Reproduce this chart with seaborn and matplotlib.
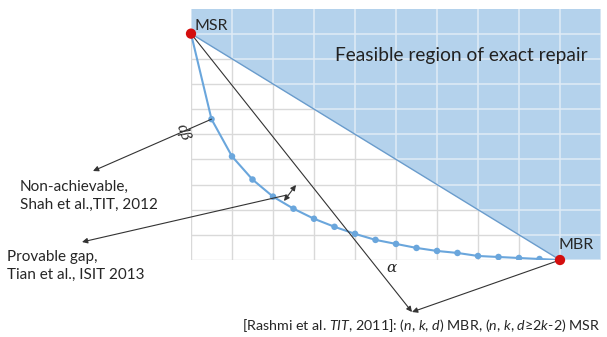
import matplotlib
matplotlib.use("Agg")
import matplotlib.pyplot as plt
import seaborn as sns

# storage/repair tradeoff (grid units, 10 x 10)
alpha = [0, 0.5, 1, 1.5, 2, 2.5, 3, 3.5, 4, 4.5, 5, 5.5, 6, 6.5, 7, 7.5, 8, 8.5, 9]
dbeta = [9, 5.6, 4.12, 3.2, 2.52, 2.04, 1.64, 1.32, 1.04, 0.8, 0.64, 0.48,
         0.36, 0.28, 0.16, 0.12, 0.08, 0.04, 0]
msr = (0, 9)
mbr = (9, 0)
x_max, y_max = 10, 10

W, H = 607, 337
AX_L, AX_R, AX_T, AX_B = 191, 601, 8.5, 260

sns.set_style("white")
plt.rcParams["font.family"] = ["Lato", "DejaVu Sans"]
plt.rcParams["mathtext.fontset"] = "custom"
plt.rcParams["mathtext.rm"] = "Lato"
plt.rcParams["mathtext.it"] = "Lato:italic"

fig = plt.figure(figsize=(W / 100, H / 100), dpi=100)
ax = fig.add_axes([AX_L / W, 1 - AX_B / H, (AX_R - AX_L) / W, (AX_B - AX_T) / H])


def px(x, y):
    # pixel position of the picture -> data units of the axes
    return ((x - AX_L) / (AX_R - AX_L) * x_max, (AX_B - y) / (AX_B - AX_T) * y_max)


# light grid, then the feasible region above the MSR-MBR line
region = [msr, (0, y_max), (x_max, y_max), (x_max, 0), mbr]
ax.vlines(range(0, x_max + 1), 0, y_max, color="#d9d9d9", lw=1.0, zorder=0.5)
ax.hlines(range(0, y_max + 1), 0, x_max, color="#d9d9d9", lw=1.0, zorder=0.5)
ax.add_patch(plt.Polygon(region, closed=True, facecolor="#b4d2ec",
                         edgecolor="none", zorder=1))
# lighter grid lines inside the shaded part
for v in range(0, x_max + 1):
    ax.plot([v, v], [max(0, mbr[0] - v), y_max], color="#e0ebf6", lw=1.1, zorder=2)
for v in range(0, y_max + 1):
    ax.plot([max(0, msr[1] - v), x_max], [v, v], color="#e0ebf6", lw=1.1, zorder=2)

ax.plot([msr[0], mbr[0]], [msr[1], mbr[1]], color="#6a9ccc", lw=1.0, zorder=2.5)

sns.lineplot(x=alpha, y=dbeta, ax=ax, color="#6aa6dc", lw=1.5, zorder=3)
sns.scatterplot(x=alpha[1:-1], y=dbeta[1:-1], ax=ax, color="#6aa6dc", s=22,
                edgecolor="none", zorder=4)
sns.scatterplot(x=[msr[0], mbr[0]], y=[msr[1], mbr[1]], ax=ax, color="#d40e0e",
                s=55, edgecolor="none", zorder=6, clip_on=False)

ax.set_xlim(0, x_max)
ax.set_ylim(0, y_max)
ax.set_xticks([])
ax.set_yticks([])
for s in ax.spines.values():
    s.set_visible(False)

arrow = dict(arrowstyle="-|>", color="#333333", lw=0.8, mutation_scale=8,
             shrinkA=0, shrinkB=0)
tip = px(412, 312)
ax.annotate("", xy=tip, xytext=msr, arrowprops=arrow, annotation_clip=False, zorder=5)
ax.annotate("", xy=tip, xytext=mbr, arrowprops=arrow, annotation_clip=False, zorder=5)
ax.annotate("", xy=px(93, 171), xytext=(alpha[1], dbeta[1]), arrowprops=arrow,
            annotation_clip=False, zorder=5)
ax.annotate("", xy=px(82, 242), xytext=px(287, 195), arrowprops=arrow,
            annotation_clip=False, zorder=5)
ax.annotate("", xy=px(296, 185), xytext=px(284, 201),
            arrowprops=dict(arrow, arrowstyle="<|-|>"), annotation_clip=False, zorder=5)

ax.text(*px(195, 26), "MSR", fontsize=11.5, va="center", ha="left", zorder=7)
ax.text(*px(558, 245), "MBR", fontsize=11.5, va="center", ha="left", zorder=7)
ax.text(*px(335, 55), "Feasible region of exact repair", fontsize=13.8,
        va="center", ha="left", color="#222222", zorder=7)
ax.text(*px(391, 268), "α", family="DejaVu Serif", style="italic", fontsize=11,
        va="center", ha="center", clip_on=False)
ax.text(*px(183, 133), "dβ", family="DejaVu Serif", style="italic", fontsize=10,
        va="center", ha="center", rotation=-70, clip_on=False)

fig.text(20 / W, 1 - 196 / H, "Non-achievable,\nShah et al.,TIT, 2012",
         fontsize=11, va="center", ha="left", linespacing=1.4)
fig.text(7 / W, 1 - 266 / H, "Provable gap,\nTian et al., ISIT 2013",
         fontsize=11, va="center", ha="left", linespacing=1.4)
fig.text(242 / W, 1 - 325 / H,
         r"[Rashmi et al. $\mathit{TIT}$, 2011]: ($\mathit{n}$, $\mathit{k}$, "
         r"$\mathit{d}$) MBR, ($\mathit{n}$, $\mathit{k}$, $\mathit{d}$≥2$\mathit{k}$-2) MSR",
         fontsize=10.3, va="center", ha="left")

fig.savefig("out.png", dpi=100)
